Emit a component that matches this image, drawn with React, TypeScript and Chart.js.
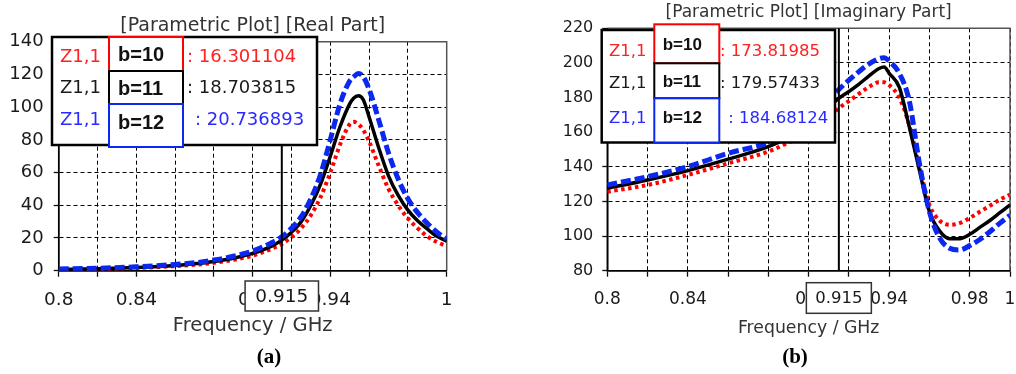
import React, { useEffect, useRef } from "react";
import { Chart, registerables } from "chart.js";

Chart.register(...registerables);

// ---------- DATA ----------
const freqRe = [0.8, 0.82, 0.84, 0.86, 0.87, 0.88, 0.89, 0.9, 0.905, 0.91, 0.915, 0.92, 0.925, 0.93, 0.935, 0.94, 0.945, 0.95, 0.952, 0.9545, 0.957, 0.96, 0.965, 0.97, 0.975, 0.98, 0.985, 0.99, 0.995, 1.0];
const reB10 = [0.6, 1.0, 1.7, 2.8, 3.6, 4.8, 6.6, 9.2, 11.2, 13.5, 16.3, 20.5, 26, 34, 45, 60, 77, 89.5, 91, 89.5, 86, 79, 64, 50, 40, 32, 26, 21, 17.5, 15];
const reB11 = [0.8, 1.2, 2.0, 3.2, 4.2, 5.6, 7.6, 10.6, 12.6, 15.2, 18.7, 23.5, 30, 40, 53, 70, 88, 102, 105.5, 107, 104.5, 94, 75, 58, 46, 37, 30.5, 25.5, 21, 18];
const reB12 = [1.0, 1.5, 2.4, 3.8, 4.8, 6.5, 8.8, 12, 14.4, 17.2, 20.7, 26, 33, 44, 59, 80, 102, 116, 118.5, 120.5, 118.5, 111, 92, 72, 56, 44, 35.5, 29, 23.5, 19.5];

const freqIm = [0.8, 0.82, 0.84, 0.86, 0.88, 0.89, 0.9, 0.905, 0.91, 0.915, 0.92, 0.925, 0.93, 0.935, 0.9375, 0.94, 0.945, 0.95, 0.955, 0.96, 0.965, 0.97, 0.975, 0.98, 0.985, 0.99, 0.995, 1.0];
const imB10 = [125.6, 129.5, 135.3, 142, 148.8, 154, 160, 164.5, 169, 173.8, 178, 182.2, 186.2, 188.9, 188.8, 187.2, 180, 164, 140, 118, 109, 106.5, 107.5, 110.5, 114, 117.5, 121, 124];
const imB11 = [127.6, 132.4, 137.8, 144.4, 151.6, 157, 164, 169, 174.5, 179.6, 183.5, 187.8, 192.5, 196.8, 197.6, 194, 186, 163, 138, 114, 103, 98.5, 98.5, 101, 105, 109, 113.5, 118];
const imB12 = [129.5, 134.3, 140.1, 147.8, 154, 160, 167, 172.5, 178.5, 184.7, 190, 195, 199.5, 202.5, 203, 201, 194, 178, 142, 114, 99, 93, 92, 94.5, 98, 102.5, 107.5, 112];

const seriesNames = ["b=10", "b=11", "b=12"];
const paramLabel = "Z1,1";
const markerFreq = 0.915;
const markerLabel = "0.915";
const markerReValues = ["16.301104", "18.703815", "20.736893"];
const markerImValues = ["173.81985", "179.57433", "184.68124"];
const reXTickLabels = [0.8, 0.84, 0.9, 0.94, 1];
const imXTickLabels = [0.8, 0.84, 0.9, 0.94, 0.98, 1];
const reYRange = [0, 140];
const imYRange = [80, 220];
const titleRe = "[Parametric Plot] [Real Part]";
const titleIm = "[Parametric Plot] [Imaginary Part]";
const xAxisTitle = "Frequency / GHz";
const captions = ["(a)", "(b)"];

// ---------- STYLE ----------
const COL_RED = "#ff0000";
const COL_BLK = "#000000";
const COL_BLU = "#0a28f0";
const TXT_RED = "#ff2020";
const TXT_BLK = "#1a1a1a";
const TXT_BLU = "#2a2aff";
const FONT = "DejaVu Sans";
const BOLD_FONT = "Liberation Sans";

const fmt = (v: number) => String(parseFloat(v.toFixed(3)));

type PanelSpec = {
  left: number;
  width: number;
  freq: number[];
  series: number[][];
  values: string[];
  yRange: number[];
  xLabels: number[];
  title: string;
  caption: string;
  plotLeft: number;
  padRight: number;
  plotBottom: number;
  titleFont: number;
  titlePad: { top: number; bottom: number };
  xTickFont: number;
  yTickFont: number;
  axisTitleFont: number;
  axisTitlePadBottom: number;
  xTickPad: number;
  yTickPad: number;
  legend: {
    outer: number[];
    zX: number;
    rowY: number[];
    boxX: number[];
    boxY: number[][];
    bX: number;
    bY: number[];
    valX: number[];
    font: number;
    boldFont: number;
  };
  markerBox: { w: number; top: number; h: number; font: number };
  captionPos: number[];
};

const panels: PanelSpec[] = [
  {
    left: 0,
    width: 508,
    freq: freqRe,
    series: [reB10, reB11, reB12],
    values: markerReValues,
    yRange: reYRange,
    xLabels: reXTickLabels,
    title: titleRe,
    caption: captions[0],
    plotLeft: 58.7,
    padRight: 61.3,
    plotBottom: 270.7,
    titleFont: 19,
    titlePad: { top: 14.6, bottom: 4.3 },
    xTickFont: 18.5,
    yTickFont: 18,
    axisTitleFont: 19.5,
    axisTitlePadBottom: 36.3,
    xTickPad: 12,
    yTickPad: 10,
    legend: {
      outer: [52, 37, 317, 145],
      zX: 60,
      rowY: [57, 88.5, 120],
      boxX: [109, 183],
      boxY: [[37, 71], [71, 104], [104, 147]],
      bX: 118,
      bY: [55, 89, 123],
      valX: [187, 187, 195],
      font: 18,
      boldFont: 20,
    },
    markerBox: { w: 73.4, top: 281, h: 30, font: 18.5 },
    captionPos: [269, 358],
  },
  {
    left: 508,
    width: 508,
    freq: freqIm,
    series: [imB10, imB11, imB12],
    values: markerImValues,
    yRange: imYRange,
    xLabels: imXTickLabels,
    title: titleIm,
    caption: captions[1],
    plotLeft: 99.3,
    padRight: 6,
    plotBottom: 270.7,
    titleFont: 17,
    titlePad: { top: 2.8, bottom: 5.1 },
    xTickFont: 17,
    yTickFont: 16,
    axisTitleFont: 17.3,
    axisTitlePadBottom: 35.6,
    xTickPad: 13,
    yTickPad: 9,
    legend: {
      outer: [93.7, 30, 327, 142.5],
      zX: 101,
      rowY: [51.7, 83.3, 118.3],
      boxX: [146.3, 211.3],
      boxY: [[24.3, 63.3], [63.3, 98.3], [98.3, 142.5]],
      bX: 154.7,
      bY: [45, 82.7, 118.3],
      valX: [212, 212, 220.3],
      font: 16.5,
      boldFont: 17,
    },
    markerBox: { w: 65, top: 282.7, h: 30.6, font: 16.5 },
    captionPos: [287, 358],
  },
];

function makePlugin(p: PanelSpec) {
  return {
    id: "extras",
    beforeDatasetsDraw(chart: any) {
      const { ctx, chartArea: a } = chart;
      ctx.save();
      ctx.strokeStyle = "#555";
      ctx.lineWidth = 1.5;
      ctx.beginPath();
      ctx.moveTo(a.left, a.top);
      ctx.lineTo(a.right, a.top);
      ctx.lineTo(a.right, a.bottom);
      ctx.stroke();
      ctx.strokeStyle = "#000";
      ctx.beginPath();
      ctx.moveTo(a.left, a.top);
      ctx.lineTo(a.left, a.bottom);
      ctx.lineTo(a.right, a.bottom);
      ctx.stroke();
      ctx.restore();
    },
    afterDatasetsDraw(chart: any) {
      const { ctx, chartArea: a } = chart;
      const mx = chart.scales.x.getPixelForValue(markerFreq);
      ctx.save();
      ctx.strokeStyle = "#000";
      ctx.lineWidth = 2;
      ctx.beginPath();
      ctx.moveTo(mx, a.bottom);
      ctx.lineTo(mx, a.top);
      ctx.stroke();
      ctx.restore();
    },
    afterDraw(chart: any) {
      const { ctx } = chart;
      const mx = chart.scales.x.getPixelForValue(markerFreq);
      ctx.save();
      // marker value box on the x axis
      const mb = p.markerBox;
      ctx.fillStyle = "#fff";
      ctx.fillRect(mx - mb.w / 2, mb.top, mb.w, mb.h);
      ctx.strokeStyle = "#333";
      ctx.lineWidth = 1.5;
      ctx.strokeRect(mx - mb.w / 2, mb.top, mb.w, mb.h);
      ctx.fillStyle = "#1a1a1a";
      ctx.font = `${mb.font}px "${FONT}"`;
      ctx.textAlign = "center";
      ctx.textBaseline = "middle";
      ctx.fillText(markerLabel, mx, mb.top + mb.h / 2 + 1);

      // legend
      const L = p.legend;
      const [ox1, oy1, ox2, oy2] = L.outer;
      ctx.fillStyle = "#fff";
      ctx.fillRect(ox1, oy1, ox2 - ox1, oy2 - oy1);
      ctx.strokeStyle = "#000";
      ctx.lineWidth = 2.5;
      ctx.strokeRect(ox1, oy1, ox2 - ox1, oy2 - oy1);
      const txtCols = [TXT_RED, TXT_BLK, TXT_BLU];
      const boxCols = [COL_RED, COL_BLK, COL_BLU];
      ctx.textAlign = "left";
      ctx.textBaseline = "middle";
      for (let i = 0; i < 3; i++) {
        const [by1, by2] = L.boxY[i];
        ctx.fillStyle = "#fff";
        ctx.fillRect(L.boxX[0], by1, L.boxX[1] - L.boxX[0], by2 - by1);
        ctx.strokeStyle = boxCols[i];
        ctx.lineWidth = 2;
        ctx.strokeRect(L.boxX[0], by1, L.boxX[1] - L.boxX[0], by2 - by1);
      }
      for (let i = 0; i < 3; i++) {
        ctx.font = `${L.font}px "${FONT}"`;
        ctx.fillStyle = txtCols[i];
        ctx.fillText(paramLabel, L.zX, L.rowY[i]);
        ctx.fillText(": " + p.values[i], L.valX[i], L.rowY[i]);
        ctx.font = `bold ${L.boldFont}px "${BOLD_FONT}"`;
        ctx.fillStyle = "#111";
        ctx.fillText(seriesNames[i], L.bX, L.bY[i]);
      }
      // caption
      ctx.font = `bold 21px "Liberation Serif"`;
      ctx.fillStyle = "#000";
      ctx.textAlign = "center";
      ctx.fillText(p.caption, p.captionPos[0], p.captionPos[1]);
      ctx.restore();
    },
  };
}

function Panel({ p }: { p: PanelSpec }) {
  const ref = useRef<HTMLCanvasElement | null>(null);
  useEffect(() => {
    if (!ref.current) return;
    const mk = (vals: number[]) => p.freq.map((f, i) => ({ x: f, y: vals[i] }));
    const common = { pointRadius: 0, fill: false, tension: 0.4, cubicInterpolationMode: "monotone" as const };
    const chart = new Chart(ref.current, {
      type: "line",
      data: {
        datasets: [
          { ...common, label: seriesNames[2], data: mk(p.series[2]), borderColor: COL_BLU, borderWidth: 5, borderDash: [10, 4], order: 0 },
          { ...common, label: seriesNames[1], data: mk(p.series[1]), borderColor: COL_BLK, borderWidth: 3.5, order: 1 },
          { ...common, label: seriesNames[0], data: mk(p.series[0]), borderColor: COL_RED, borderWidth: 4, borderDash: [3.5, 3.5], order: 2 },
        ],
      },
      options: {
        animation: false,
        responsive: false,
        devicePixelRatio: 1,
        events: [],
        layout: { padding: { left: 0, right: p.padRight, top: 0, bottom: 0 } },
        plugins: {
          legend: { display: false },
          tooltip: { enabled: false },
          title: {
            display: true,
            text: p.title,
            fullSize: false,
            color: "#333",
            font: { family: FONT, size: p.titleFont, weight: "normal" },
            padding: p.titlePad,
          },
        },
        scales: {
          x: {
            type: "linear",
            min: 0.8,
            max: 1.0,
            ticks: {
              stepSize: 0.02,
              autoSkip: false,
              maxRotation: 0,
              padding: p.xTickPad,
              color: "#1a1a1a",
              font: { family: FONT, size: p.xTickFont },
              callback: (v: any) => (p.xLabels.some((l) => Math.abs(l - Number(v)) < 1e-6) ? fmt(Number(v)) : ""),
            },
            grid: { color: "#000", lineWidth: 1, tickLength: 6, tickColor: "#111", tickWidth: 1.3, tickBorderDash: [] },
            border: { display: true, color: "#000", width: 1.5, dash: [4, 3] },
            title: {
              display: true,
              text: xAxisTitle,
              color: "#333",
              font: { family: FONT, size: p.axisTitleFont },
              padding: { top: 0, bottom: p.axisTitlePadBottom },
            },
            afterFit: (s: any) => {
              s.height = 374 - p.plotBottom;
              s.paddingLeft = 0;
              s.paddingRight = 0;
            },
          },
          y: {
            type: "linear",
            min: p.yRange[0],
            max: p.yRange[1],
            ticks: {
              stepSize: 20,
              padding: p.yTickPad,
              color: "#1a1a1a",
              font: { family: FONT, size: p.yTickFont },
            },
            grid: { color: "#000", lineWidth: 1, tickLength: 5, tickColor: "#111", tickWidth: 1.3, tickBorderDash: [] },
            border: { display: true, color: "#000", width: 1.5, dash: [4, 3] },
            afterFit: (s: any) => {
              s.width = p.plotLeft;
            },
          },
        },
      } as any,
      plugins: [makePlugin(p) as any],
    });
    return () => chart.destroy();
  }, [p]);
  return (
    <canvas
      ref={ref}
      width={p.width}
      height={374}
      style={{ position: "absolute", left: p.left, top: 0, width: p.width, height: 374 }}
    />
  );
}

export default function App() {
  return (
    <div style={{ position: "absolute", left: 0, top: 0, width: 1016, height: 374, background: "#fff", overflow: "hidden" }}>
      {panels.map((p, i) => (
        <Panel key={i} p={p} />
      ))}
    </div>
  );
}
